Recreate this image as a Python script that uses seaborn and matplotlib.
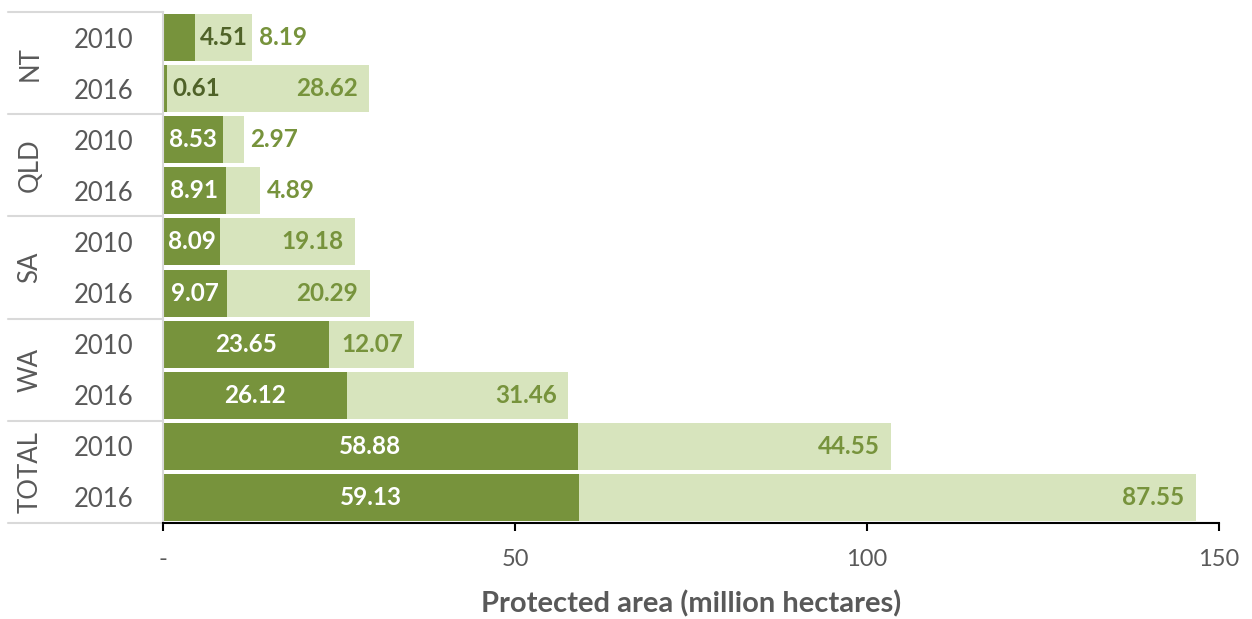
import matplotlib
matplotlib.use("Agg")
import matplotlib.pyplot as plt
import seaborn as sns
import pandas as pd
import numpy as np

states = ["NT", "NT", "QLD", "QLD", "SA", "SA", "WA", "WA", "TOTAL", "TOTAL"]
years = ["2010", "2016", "2010", "2016", "2010", "2016", "2010", "2016", "2010", "2016"]
dark_vals = [4.51, 0.61, 8.53, 8.91, 8.09, 9.07, 23.65, 26.12, 58.88, 59.13]
light_vals = [8.19, 28.62, 2.97, 4.89, 19.18, 20.29, 12.07, 31.46, 44.55, 87.55]
group_names = ["NT", "QLD", "SA", "WA", "TOTAL"]
x_ticks = [0, 50, 100, 150]
x_tick_labels = ["-", "50", "100", "150"]

DARK = "#77933C"
LIGHT = "#D7E4BD"
DARK_TXT = "#4F6228"
GRAY = "#595959"

sns.set_theme(style="white")
plt.rcParams["font.family"] = ["Lato", "DejaVu Sans"]

df = pd.DataFrame({
    "row": [f"{s} {y}" for s, y in zip(states, years)],
    "dark": dark_vals,
    "light": light_vals,
})
df["total"] = df["dark"] + df["light"]

fig = plt.figure(figsize=(12.52, 6.19), dpi=100)
ax = fig.add_axes([163 / 1252, 1 - 523 / 619, (1219 - 163) / 1252, (523 - 12) / 619])

sns.barplot(data=df, y="row", x="total", color=LIGHT, orient="h", width=0.92,
            saturation=1, ax=ax, order=df["row"], linewidth=0)
sns.barplot(data=df, y="row", x="dark", color=DARK, orient="h", width=0.92,
            saturation=1, ax=ax, order=df["row"], linewidth=0)

ax.set_xlim(0, 150)
ax.set_ylim(9.5, -0.5)

LBL = 17.5
for i, r in df.iterrows():
    d, l, t = r["dark"], r["light"], r["total"]
    if d < 5:
        ax.text(d + 0.7, i, f"{d:.2f}", ha="left", va="center", color=DARK_TXT,
                fontsize=LBL, fontweight="bold")
    else:
        ax.text(d / 2, i, f"{d:.2f}", ha="center", va="center", color="white",
                fontsize=LBL, fontweight="bold")
    if l < 10:
        ax.text(t + 0.9, i, f"{l:.2f}", ha="left", va="center", color=DARK,
                fontsize=LBL, fontweight="bold")
    else:
        ax.text(t - 6, i, f"{l:.2f}", ha="center", va="center", color=DARK,
                fontsize=LBL, fontweight="bold")

ax.set_xticks(x_ticks)
ax.set_xticklabels(x_tick_labels, color=GRAY, fontsize=17)
ax.tick_params(axis="x", direction="out", length=6, width=1.5, color="black", pad=13,
               bottom=True)
ax.set_yticks(range(len(years)))
ax.set_yticklabels(years, color=GRAY, fontsize=18.5)
ax.tick_params(axis="y", length=0, pad=21)
ax.set_ylabel("")
ax.set_xlabel("Protected area (million hectares)", color=GRAY, fontsize=21,
              fontweight="bold", labelpad=14)

for side in ["top", "right"]:
    ax.spines[side].set_visible(False)
ax.spines["left"].set_color("#D9D9D9")
ax.spines["left"].set_linewidth(1.5)
ax.spines["bottom"].set_color("black")
ax.spines["bottom"].set_linewidth(1.5)

trans = ax.get_yaxis_transform()
x_left = (8 - 163) / 1056
for k in range(len(group_names) + 1):
    yb = 2 * k - 0.5
    ax.plot([x_left, 0], [yb, yb], transform=trans, color="#D9D9D9", lw=1.5,
            clip_on=False)
for k, g in enumerate(group_names):
    ax.text((30 - 163) / 1056, 2 * k + 0.5, g, transform=trans, rotation=90,
            ha="center", va="center", color=GRAY, fontsize=18.5)

fig.savefig("out.png", dpi=100)
